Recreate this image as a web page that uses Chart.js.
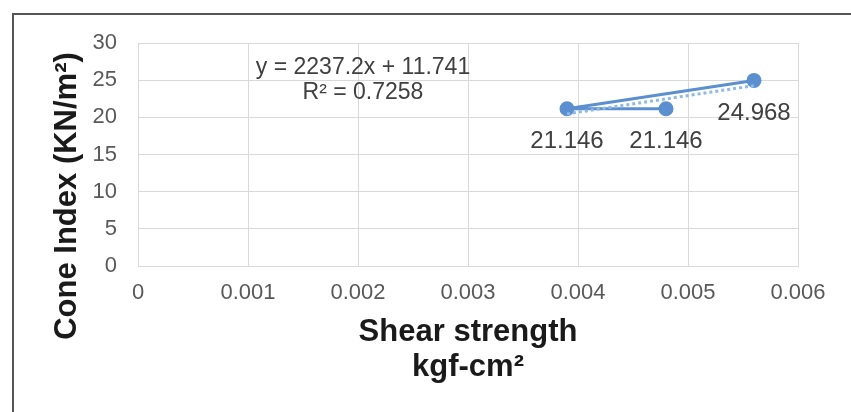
<!DOCTYPE html>
<html>
<head>
<meta charset="utf-8">
<script src="https://cdn.jsdelivr.net/npm/chart.js@4"></script>
<style>
  body { margin: 0; background: #fff; }
  #wrap { position: relative; width: 851px; height: 412px; overflow: hidden; }
  #frame { position: absolute; left: 12px; top: 13px; width: 900px; height: 500px;
           border-top: 2px solid #555; border-left: 2px solid #555; }
  #chart { position: absolute; left: 0; top: 0; }
</style>
</head>
<body>
<div id="wrap">
  <div id="frame"></div>
  <canvas id="chart" width="851" height="412"></canvas>
</div>
<script>
// series, in the order the line was drawn
const shearStrength = [0.0048, 0.0039, 0.0056];
const coneIndex = [21.146, 21.146, 24.968];

// axis ticks
const xTickValues = [0, 0.001, 0.002, 0.003, 0.004, 0.005, 0.006];
const yTickValues = [0, 5, 10, 15, 20, 25, 30];

// linear trendline as printed on the chart
const trendSlope = 2237.2;
const trendIntercept = 11.741;
const trendText = ['y = 2237.2x + 11.741', 'R\u00b2 = 0.7258'];

const xTitle = ['Shear strength', 'kgf-cm\u00b2'];
const yTitle = 'Cone Index (KN/m\u00b2)';

const lineColor = '#5b8fcf';
const trendColor = '#8fb9e6';
const fontFamily = '"Liberation Sans", Arial, sans-serif';

const xMin = Math.min(...shearStrength), xMax = Math.max(...shearStrength);
const trendPoints = [xMin, xMax].map(x => ({ x: x, y: trendSlope * x + trendIntercept }));

const extras = {
    id: 'extras',
    afterDatasetsDraw(chart) {
        const ctx = chart.ctx;
        ctx.save();
        // point labels under each marker
        const meta = chart.getDatasetMeta(0);
        ctx.font = '24px ' + fontFamily;
        ctx.fillStyle = '#404040';
        ctx.textAlign = 'center';
        ctx.textBaseline = 'middle';
        meta.data.forEach((pt, i) => {
            ctx.fillText(coneIndex[i].toFixed(3), pt.x, pt.y + 33);
        });
        // trendline equation
        ctx.font = '23px ' + fontFamily;
        ctx.fillText(trendText[0], 363, 68);
        ctx.fillText(trendText[1], 363, 93);
        // y axis title, rotated
        ctx.font = 'bold 31px ' + fontFamily;
        ctx.fillStyle = '#1a1a1a';
        ctx.translate(67, 196);
        ctx.rotate(-Math.PI / 2);
        ctx.fillText(yTitle, 0, 0);
        ctx.restore();
    }
};

const chart = new Chart(document.getElementById('chart'), {
    type: 'scatter',
    data: {
        datasets: [{
            data: shearStrength.map((x, i) => ({ x: x, y: coneIndex[i] })),
            showLine: true,
            borderColor: lineColor,
            backgroundColor: lineColor,
            borderWidth: 3,
            pointRadius: 6,
            pointHoverRadius: 6,
            order: 2
        }, {
            data: trendPoints,
            showLine: true,
            borderColor: trendColor,
            borderWidth: 3,
            borderDash: [3, 3],
            pointRadius: 0,
            order: 1
        }]
    },
    plugins: [extras],
    options: {
        responsive: false,
        animation: false,
        layout: { padding: { top: 43, right: 53, left: 0, bottom: 0 } },
        plugins: { legend: { display: false }, tooltip: { enabled: false } },
        scales: {
            x: {
                type: 'linear',
                min: 0,
                max: 0.006,
                afterBuildTicks: s => { s.ticks = xTickValues.map(v => ({ value: v })); },
                afterFit: s => { s.height = 412 - 266; },
                grid: { color: '#d9d9d9', drawTicks: false },
                border: { color: '#d9d9d9' },
                ticks: {
                    padding: 14,
                    color: '#595959',
                    font: { family: fontFamily, size: 22 },
                    maxRotation: 0,
                    callback: v => String(+v.toFixed(3))
                },
                title: {
                    display: true,
                    text: xTitle,
                    color: '#1a1a1a',
                    font: { family: fontFamily, size: 31, weight: 'bold', lineHeight: 1.13 },
                    padding: { top: 0, bottom: 27 }
                }
            },
            y: {
                min: 0,
                max: 30,
                afterBuildTicks: s => { s.ticks = yTickValues.map(v => ({ value: v })); },
                afterFit: s => { s.width = 138; },
                grid: { color: '#d9d9d9', drawTicks: false },
                border: { color: '#d9d9d9' },
                ticks: {
                    padding: 21,
                    color: '#595959',
                    font: { family: fontFamily, size: 22 }
                }
            }
        }
    }
});
</script>
</body>
</html>
